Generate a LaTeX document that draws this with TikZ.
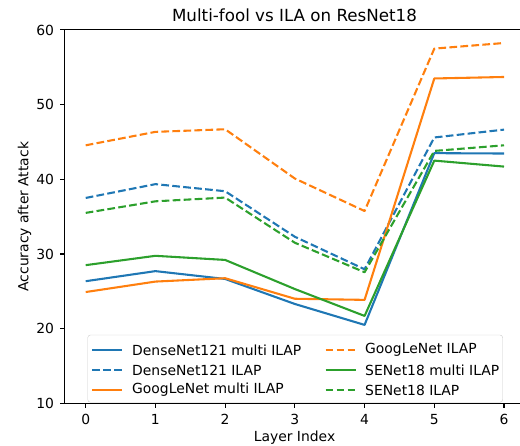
\documentclass[tikz,border=0pt]{standalone}
\usepackage{fontspec}
\setmainfont{DejaVu Sans}
\definecolor{cblue}{HTML}{1F77B4}
\definecolor{corange}{HTML}{FF7F0E}
\definecolor{cgreen}{HTML}{2CA02C}
\begin{document}
\begin{tikzpicture}[x=1pt,y=1pt,
    lbl/.style={font=\fontsize{13.9}{16}\selectfont,inner sep=0pt},
    curve/.style={line width=2.08pt,line join=round},
    ila/.style={curve,dash pattern=on 7.7pt off 3.3pt},
    spine/.style={line width=1.1pt,black}]
    \useasboundingbox (0,0) rectangle (520,446);
    \clip (0,0) rectangle (520,446);
    \node[lbl,font=\fontsize{16.7}{19}\selectfont] (title) at (294.5,431) {Multi-fool vs ILA on ResNet18};
    \node[lbl,rotate=90] (ylabel) at (24.5,229.3) {Accuracy after Attack};
    \node[lbl] (xlabel) at (294.5,8) {Layer Index};
    \begin{scope}[shift={(85.7pt,-31.97pt)},x=69.72pt,y=7.467pt]
        % curves
        \draw[curve,cblue] plot coordinates {(0,26.35) (1,27.7) (2,26.65) (3,23.3) (4,20.5) (5,43.5) (6,43.45)};
        \draw[ila,cblue] plot coordinates {(0,37.5) (1,39.35) (2,38.4) (3,32.3) (4,27.95) (5,45.6) (6,46.65)};
        \draw[curve,corange] plot coordinates {(0,24.9) (1,26.3) (2,26.75) (3,24.0) (4,23.85) (5,53.5) (6,53.7)};
        \draw[ila,corange] plot coordinates {(0,44.55) (1,46.35) (2,46.7) (3,40.1) (4,35.75) (5,57.5) (6,58.25)};
        \draw[curve,cgreen] plot coordinates {(0,28.5) (1,29.75) (2,29.2) (3,25.3) (4,21.7) (5,42.5) (6,41.7)};
        \draw[ila,cgreen] plot coordinates {(0,35.5) (1,37.05) (2,37.55) (3,31.5) (4,27.55) (5,43.8) (6,44.55)};
        % axes
        \draw[spine] (-0.3,10) rectangle (6.3,60);
        \foreach \i in {0,...,6} {
            \draw[spine] (\i,10) -- ++(0,-4.9pt);
            \node[lbl,anchor=north] (xt\i) at ([yshift=-10.6pt]\i,10) {\i};
        }
        \foreach \v in {10,20,...,60} {
            \draw[spine] (-0.3,\v) -- ++(-4.9pt,0);
            \node[lbl,anchor=east] (yt\v) at ([xshift=-10.6pt]-0.3,\v) {\v};
        }
    \end{scope}
    % legend
    \draw[rounded corners=2.8pt,draw=black!20,fill=white,fill opacity=0.8] (87.7,43.7) rectangle (502.7,111);
    \draw[curve,cblue] (92,96) -- (122,96);
    \node[lbl,anchor=west] (leg1) at (132,96) {DenseNet121 multi ILAP};
    \draw[ila,cblue] (92,76) -- (122,76);
    \node[lbl,anchor=west] (leg2) at (132,76) {DenseNet121 ILAP};
    \draw[curve,corange] (92,56) -- (122,56);
    \node[lbl,anchor=west] (leg3) at (132,56) {GoogLeNet multi ILAP};
    \draw[ila,corange] (325.7,96) -- (355.7,96);
    \node[lbl,anchor=west] (leg4) at (365,96) {GoogLeNet ILAP};
    \draw[curve,cgreen] (325.7,76) -- (355.7,76);
    \node[lbl,anchor=west] (leg5) at (365,76) {SENet18 multi ILAP};
    \draw[ila,cgreen] (325.7,56) -- (355.7,56);
    \node[lbl,anchor=west] (leg6) at (365,56) {SENet18 ILAP};
\end{tikzpicture}
\end{document}
